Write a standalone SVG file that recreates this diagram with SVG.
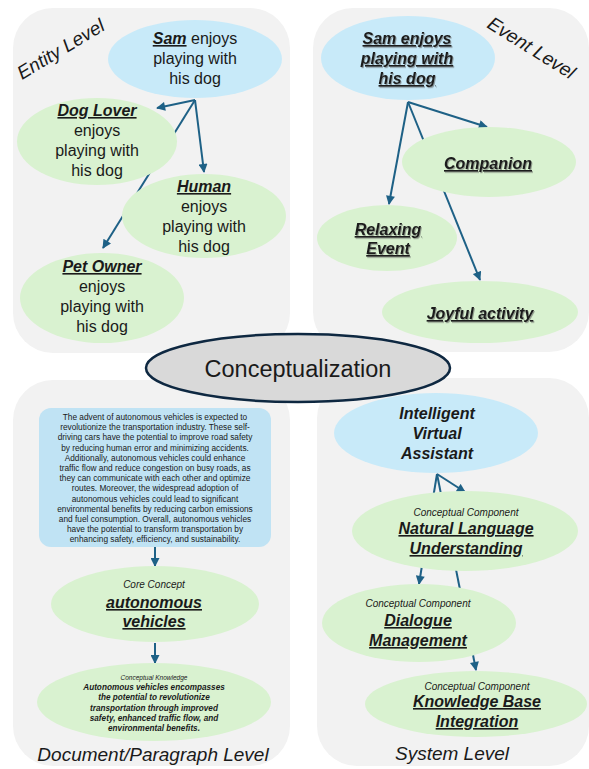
<svg xmlns="http://www.w3.org/2000/svg" width="589" height="769" viewBox="0 0 589 769">
<defs>
<style>
.panel{fill:#F2F2F2}
.blue{fill:#C8EAF9}
.box{fill:#C0E3F4}
.green{fill:#D9F2D0}
.t{font-family:"Liberation Sans",Arial,sans-serif;fill:#1a1a1a;text-anchor:middle}
.n16{font-size:16px}
.bi{font-weight:bold;font-style:italic}
.u{text-decoration:underline}
.it{font-style:italic}
.lvl{font-family:"Liberation Sans",Arial,sans-serif;font-style:italic;fill:#1a1a1a;font-size:19px}
.conn{stroke:#1E6186;stroke-width:2;fill:none;marker-end:url(#ah)}
.sh{filter:url(#shadow)}
</style>
<marker id="ah" viewBox="0 0 10 10" refX="9" refY="5" markerUnits="userSpaceOnUse" markerWidth="10" markerHeight="9" orient="auto">
<path d="M0,0 L10,5 L0,10 z" fill="#1E6186"/>
</marker>
<filter id="shadow" x="-10%" y="-10%" width="120%" height="140%">
<feDropShadow dx="1" dy="1.2" stdDeviation="0.6" flood-color="#555" flood-opacity="0.55"/>
</filter>
</defs>

<g id="panels">
<rect id="panel-entity" class="panel" x="13" y="8" width="277" height="345" rx="40"/>
<rect id="panel-event" class="panel" x="313" y="8" width="276" height="344" rx="40"/>
<rect id="panel-document" class="panel" x="13" y="380" width="277" height="386" rx="40"/>
<rect id="panel-system" class="panel" x="317" y="378" width="272" height="388" rx="40"/>
<text class="lvl" transform="translate(22,80) rotate(-31)">Entity Level</text>
<text class="lvl" transform="translate(486,27) rotate(32)">Event Level</text>
<text class="lvl" x="153" y="761" text-anchor="middle">Document/Paragraph Level</text>
<text class="lvl" x="452" y="760" text-anchor="middle">System Level</text>
</g>

<g id="connectors">
<path class="conn" d="M195,100 L157,108"/>
<path class="conn" d="M195,100 L204,172"/>
<path class="conn" d="M195,100 L103,248"/>
<path class="conn" d="M408,102 L487,127"/>
<path class="conn" d="M408,102 L480,280"/>
<path class="conn" d="M408,102 L389,204"/>
<path class="conn" d="M155,547 L155,566"/>
<path class="conn" d="M155,643 L155,663"/>
<path class="conn" d="M437,474 L465,492"/>
<path class="conn" d="M437,474 L419,584"/>
<path class="conn" d="M437,474 L476,670"/>
</g>

<g id="conceptualization">
<ellipse cx="298" cy="368" rx="152" ry="34" fill="#D9D9D9" stroke="#0E2841" stroke-width="2.5"/>
<text class="t" x="298" y="377" font-size="23.5">Conceptualization</text>
</g>

<g id="entity-sam">
<ellipse class="blue" cx="195" cy="59" rx="87" ry="39"/>
<text class="t n16" x="195" y="44"><tspan class="bi u">Sam</tspan> enjoys</text>
<text class="t n16" x="195" y="64">playing with</text>
<text class="t n16" x="195" y="84">his dog</text>
</g>
<g id="entity-doglover">
<ellipse class="green" cx="97" cy="141.5" rx="80" ry="43.5"/>
<text class="t n16 bi u" x="97" y="116">Dog Lover</text>
<text class="t n16" x="97" y="136">enjoys</text>
<text class="t n16" x="97" y="156">playing with</text>
<text class="t n16" x="97" y="176">his dog</text>
</g>
<g id="entity-human">
<ellipse class="green" cx="204" cy="216" rx="82" ry="42"/>
<text class="t n16 bi u" x="204" y="192">Human</text>
<text class="t n16" x="204" y="212">enjoys</text>
<text class="t n16" x="204" y="232">playing with</text>
<text class="t n16" x="204" y="252">his dog</text>
</g>
<g id="entity-petowner">
<ellipse class="green" cx="102" cy="298" rx="82" ry="45"/>
<text class="t n16 bi u" x="102" y="272">Pet Owner</text>
<text class="t n16" x="102" y="292">enjoys</text>
<text class="t n16" x="102" y="312">playing with</text>
<text class="t n16" x="102" y="332">his dog</text>
</g>

<g id="event-sam">
<ellipse class="blue" cx="408" cy="58" rx="87" ry="42"/>
<g class="sh">
<text class="t n16 bi u" x="407" y="44">Sam enjoys</text>
<text class="t n16 bi u" x="407" y="64">playing with</text>
<text class="t n16 bi u" x="407" y="84">his dog</text>
</g>
</g>
<g id="event-companion">
<ellipse class="green" cx="489" cy="162" rx="87" ry="35"/>
<text class="t n16 bi u sh" x="488" y="169">Companion</text>
</g>
<g id="event-relaxing">
<ellipse class="green" cx="387" cy="238" rx="70" ry="33"/>
<g class="sh">
<text class="t n16 bi u" x="388" y="235">Relaxing</text>
<text class="t n16 bi u" x="388" y="254">Event</text>
</g>
</g>
<g id="event-joyful">
<ellipse class="green" cx="480" cy="312" rx="98" ry="31"/>
<text class="t n16 bi u sh" x="480" y="319">Joyful activity</text>
</g>

<g id="doc-paragraph">
<rect class="box" x="39" y="408" width="232" height="139" rx="12"/>
<g class="t" font-size="8.3">
<text x="155" y="420">The advent of autonomous vehicles is expected to</text>
<text x="155" y="430.2">revolutionize the transportation industry. These self-</text>
<text x="155" y="440.4">driving cars have the potential to improve road safety</text>
<text x="155" y="450.6">by reducing human error and minimizing accidents.</text>
<text x="155" y="460.8">Additionally, autonomous vehicles could enhance</text>
<text x="155" y="471">traffic flow and reduce congestion on busy roads, as</text>
<text x="155" y="481.2">they can communicate with each other and optimize</text>
<text x="155" y="491.4">routes. Moreover, the widespread adoption of</text>
<text x="155" y="501.6">autonomous vehicles could lead to significant</text>
<text x="155" y="511.8">environmental benefits by reducing carbon emissions</text>
<text x="155" y="522">and fuel consumption. Overall, autonomous vehicles</text>
<text x="155" y="532.2">have the potential to transform transportation by</text>
<text x="155" y="542.4">enhancing safety, efficiency, and sustainability.</text>
</g>
</g>
<g id="doc-core">
<ellipse class="green" cx="155" cy="604" rx="104" ry="38"/>
<text class="t it" x="154" y="587.5" font-size="10">Core Concept</text>
<text class="t n16 bi u" x="154" y="608">autonomous</text>
<text class="t n16 bi u" x="154" y="627">vehicles</text>
</g>
<g id="doc-knowledge">
<ellipse class="green" cx="154" cy="702" rx="117" ry="39"/>
<text class="t it" x="154" y="679.5" font-size="6.5">Conceptual  Knowledge</text>
<g class="t bi" font-size="8.2">
<text x="154" y="690">Autonomous vehicles encompasses</text>
<text x="154" y="700">the potential to revolutionize</text>
<text x="154" y="710.5">transportation through improved</text>
<text x="154" y="721">safety, enhanced traffic flow, and</text>
<text x="154" y="731">environmental benefits.</text>
</g>
</g>

<g id="sys-assistant">
<ellipse class="blue" cx="436" cy="433" rx="102" ry="40"/>
<text class="t n16 bi" x="437" y="419">Intelligent</text>
<text class="t n16 bi" x="437" y="439">Virtual</text>
<text class="t n16 bi" x="437" y="459">Assistant</text>
</g>
<g id="sys-nlu">
<ellipse class="green" cx="465" cy="531" rx="113" ry="40"/>
<text class="t it" x="466" y="515.5" font-size="10">Conceptual Component</text>
<text class="t n16 bi u" x="466" y="534">Natural Language</text>
<text class="t n16 bi u" x="466" y="554">Understanding</text>
</g>
<g id="sys-dialogue">
<ellipse class="green" cx="419" cy="623" rx="97" ry="39"/>
<text class="t it" x="418" y="606.5" font-size="10">Conceptual Component</text>
<text class="t n16 bi u" x="418" y="626">Dialogue</text>
<text class="t n16 bi u" x="418" y="646">Management</text>
</g>
<g id="sys-knowledge">
<ellipse class="green" cx="476" cy="704" rx="111" ry="33"/>
<text class="t it" x="477" y="689.5" font-size="10">Conceptual Component</text>
<text class="t n16 bi u" x="477" y="707">Knowledge Base</text>
<text class="t n16 bi u" x="477" y="727">Integration</text>
</g>
</svg>
